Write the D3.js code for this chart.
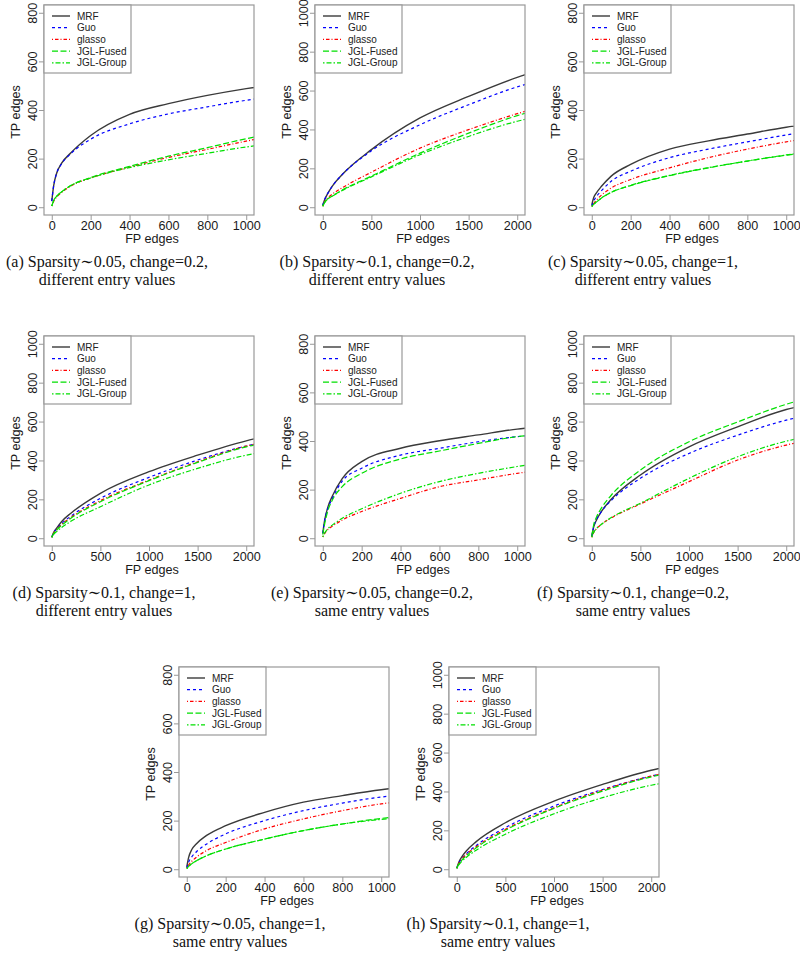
<!DOCTYPE html>
<html>
<head>
<meta charset="utf-8">
<script src="https://cdn.jsdelivr.net/npm/d3@7"></script>
<style>
  html, body { margin: 0; padding: 0; background: #fff; }
  svg { display: block; }
</style>
</head>
<body>
<svg id="chart" width="800" height="958"></svg>
<script>
// ---------------- DATA ----------------
const methods = ["MRF", "Guo", "glasso", "JGL-Fused", "JGL-Group"];
const panelIds = ["a", "b", "c", "d", "e", "f", "g", "h"];
const captionsLine1 = [
  "(a) Sparsity\u223C0.05, change=0.2,",
  "(b) Sparsity\u223C0.1, change=0.2,",
  "(c) Sparsity\u223C0.05, change=1,",
  "(d) Sparsity\u223C0.1, change=1,",
  "(e) Sparsity\u223C0.05, change=0.2,",
  "(f) Sparsity\u223C0.1, change=0.2,",
  "(g) Sparsity\u223C0.05, change=1,",
  "(h) Sparsity\u223C0.1, change=1,"
];
const captionsLine2 = [
  "different entry values", "different entry values", "different entry values",
  "different entry values", "same entry values", "same entry values",
  "same entry values", "same entry values"
];
const xMaxes = [1000, 2000, 1000, 2000, 1000, 2000, 1000, 2000];
const yMaxes = [800, 1000, 800, 1000, 800, 1000, 800, 1000];
const xTicksShort = [0, 200, 400, 600, 800, 1000];
const xTicksLong = [0, 500, 1000, 1500, 2000];
const yTicks800 = [0, 200, 400, 600, 800];
const yTicks1000 = [0, 200, 400, 600, 800, 1000];

// FP edge sample points (x) for the 1000-range and 2000-range panels
const FP_SHORT = [0, 10, 25, 50, 100, 200, 400, 600, 800, 1000, 1100];
const FP_LONG = [0, 20, 50, 100, 200, 500, 1000, 1500, 2000, 2200];

// TP edges (y), one row per panel a..h
const MRF = [
  [25, 90, 140, 180, 225, 295, 382, 426, 460, 488, 500],
  [10, 40, 70, 110, 168, 296, 459, 570, 668, 700],
  [10, 40, 60, 86, 128, 176, 239, 273, 301, 329, 340],
  [5, 30, 52, 85, 130, 231, 342, 427, 501, 525],
  [20, 75, 125, 175, 245, 315, 370, 401, 425, 449, 458],
  [10, 58, 95, 138, 200, 325, 470, 573, 662, 685],
  [10, 50, 80, 105, 138, 179, 234, 276, 303, 327, 336],
  [5, 35, 62, 95, 142, 239, 350, 436, 509, 530]
];
const GUO = [
  [25, 90, 140, 178, 222, 280, 343, 384, 413, 440, 452],
  [10, 40, 70, 110, 168, 290, 424, 527, 619, 648],
  [5, 25, 45, 68, 107, 148, 204, 239, 269, 297, 310],
  [5, 28, 48, 75, 115, 205, 313, 402, 474, 495],
  [20, 75, 120, 165, 235, 288, 342, 370, 397, 418, 425],
  [10, 60, 97, 138, 194, 308, 436, 530, 607, 630],
  [5, 30, 50, 72, 103, 145, 200, 241, 272, 297, 305],
  [5, 30, 52, 80, 122, 214, 325, 410, 479, 500]
];
const GLASSO = [
  [5, 25, 42, 60, 88, 120, 165, 205, 238, 272, 288],
  [5, 28, 48, 68, 100, 180, 304, 399, 481, 510],
  [3, 15, 30, 50, 79, 114, 162, 204, 239, 269, 282],
  [5, 26, 45, 70, 108, 193, 299, 393, 474, 495],
  [5, 20, 35, 50, 75, 110, 164, 212, 240, 267, 278],
  [5, 30, 50, 72, 104, 176, 291, 402, 479, 500],
  [3, 18, 32, 50, 76, 110, 166, 207, 241, 269, 278],
  [5, 28, 50, 76, 116, 205, 316, 407, 479, 500]
];
const JGL_FUSED = [
  [5, 28, 45, 63, 90, 122, 168, 210, 245, 282, 298],
  [5, 25, 42, 58, 88, 160, 278, 381, 471, 500],
  [3, 12, 22, 38, 61, 89, 130, 162, 190, 214, 224],
  [5, 24, 42, 66, 104, 188, 296, 390, 470, 490],
  [15, 60, 110, 158, 212, 267, 326, 359, 390, 418, 425],
  [10, 70, 110, 156, 221, 350, 496, 598, 689, 718],
  [3, 12, 22, 35, 55, 83, 124, 159, 186, 209, 217],
  [5, 26, 46, 70, 110, 200, 313, 402, 475, 495]
];
const JGL_GROUP = [
  [5, 28, 45, 63, 90, 120, 163, 195, 222, 248, 258],
  [5, 25, 42, 58, 86, 156, 270, 364, 442, 465],
  [3, 12, 22, 38, 61, 90, 131, 163, 190, 215, 225],
  [5, 20, 34, 55, 88, 162, 274, 359, 427, 445],
  [5, 22, 38, 55, 82, 121, 185, 233, 267, 295, 308],
  [5, 30, 50, 72, 106, 180, 308, 419, 499, 520],
  [3, 12, 22, 35, 55, 83, 124, 159, 186, 205, 212],
  [5, 22, 40, 62, 98, 180, 285, 368, 432, 450]
];
const SERIES = [MRF, GUO, GLASSO, JGL_FUSED, JGL_GROUP];

// ---------------- STYLE / LAYOUT ----------------
const lineColors = ["#3a3a3a", "#0000ff", "#ff0000", "#00e000", "#00e000"];
const lineDash = [null, "3,3", "1,2,3.5,2", "6,2.5", "1.5,2,5,2"];
const lineWidths = [1.4, 1.2, 1.2, 1.2, 1.2];
const boxLefts = [44, 315, 584, 44, 315, 584, 179, 449];
const boxTops = [5, 5, 5, 336, 336, 336, 667, 667];
const captionCenters = [107, 377, 643, 104, 372, 633, 230, 498];
const BOX = 210;
const sansFont = "'Liberation Sans', Arial, Helvetica, sans-serif";
const serifFont = "'Liberation Serif', 'Times New Roman', 'DejaVu Serif', serif";

const svg = d3.select("#chart");

panelIds.forEach((pid, i) => {
  const L = boxLefts[i], T = boxTops[i];
  const xMax = xMaxes[i], yMax = yMaxes[i];
  const fps = xMax === 1000 ? FP_SHORT : FP_LONG;
  const x = d3.scaleLinear().domain([-0.04 * xMax, 1.04 * xMax]).range([L, L + BOX]);
  const y = d3.scaleLinear().domain([-0.04 * yMax, 1.04 * yMax]).range([T + BOX, T]);
  const g = svg.append("g").attr("class", "panel panel-" + pid);

  const clipId = "clip-" + pid;
  svg.append("clipPath").attr("id", clipId)
    .append("rect").attr("x", L).attr("y", T).attr("width", BOX).attr("height", BOX);

  // curves
  const lineGen = d3.line()
    .x(d => x(d[0])).y(d => y(d[1]))
    .curve(d3.curveMonotoneX);
  const curves = g.append("g").attr("clip-path", `url(#${clipId})`);
  SERIES.forEach((ser, k) => {
    const pts = fps.map((fp, j) => [fp, ser[i][j]]);
    curves.append("path")
      .attr("d", lineGen(pts))
      .attr("fill", "none")
      .attr("stroke", lineColors[k])
      .attr("stroke-width", lineWidths[k])
      .attr("stroke-dasharray", lineDash[k]);
  });

  // box
  g.append("rect").attr("x", L).attr("y", T).attr("width", BOX).attr("height", BOX)
    .attr("fill", "none").attr("stroke", "#999").attr("stroke-width", 1.2);

  // x axis
  const xTicks = xMax === 1000 ? xTicksShort : xTicksLong;
  const xAxis = d3.axisBottom(x).tickValues(xTicks).tickSize(5).tickPadding(1).tickFormat(d3.format("d"));
  const xa = g.append("g").attr("transform", `translate(0,${T + BOX})`).call(xAxis);
  xa.attr("font-size", null).attr("font-family", null);
  xa.select(".domain").remove();
  xa.selectAll(".tick line").attr("stroke", "#999");
  xa.selectAll(".tick text")
    .style("font-family", sansFont).style("font-size", "12.6px").style("fill", "#1a1a1a");

  // y axis (labels parallel to axis, like R's las=0)
  const yTicks = yMax === 800 ? yTicks800 : yTicks1000;
  const yAxis = d3.axisLeft(y).tickValues(yTicks).tickSize(5).tickFormat(d3.format("d"));
  const ya = g.append("g").attr("transform", `translate(${L},0)`).call(yAxis);
  ya.attr("font-size", null).attr("font-family", null);
  ya.select(".domain").remove();
  ya.selectAll(".tick line").attr("stroke", "#999");
  ya.selectAll(".tick text")
    .style("font-family", sansFont).style("font-size", "12.6px").style("fill", "#1a1a1a")
    .attr("x", null).attr("dy", null)
    .attr("text-anchor", "middle")
    .attr("transform", "translate(-12,0) rotate(-90)")
    .attr("dy", "0.36em");

  // axis titles
  g.append("text").attr("x", L + BOX / 2 + 3).attr("y", T + BOX + 24).attr("dy", "0.35em")
    .attr("text-anchor", "middle").style("font-family", sansFont).style("font-size", "12.6px")
    .style("fill", "#1a1a1a").text("FP edges");
  g.append("text").attr("transform", `translate(${L - 29},${T + BOX / 2 + 2}) rotate(-90)`)
    .attr("dy", "0.36em").attr("text-anchor", "middle").style("font-family", sansFont)
    .style("font-size", "12.6px").style("fill", "#1a1a1a").text("TP edges");

  // legend
  const lg = g.append("g");
  lg.append("rect").attr("x", L).attr("y", T).attr("width", 87).attr("height", 68)
    .attr("fill", "#fff").attr("stroke", "#999").attr("stroke-width", 1.2);
  methods.forEach((m, k) => {
    const ly = T + 11 + k * 11.7;
    lg.append("line").attr("x1", L + 8).attr("x2", L + 26).attr("y1", ly).attr("y2", ly)
      .attr("stroke", lineColors[k]).attr("stroke-width", lineWidths[k])
      .attr("stroke-dasharray", lineDash[k]);
    lg.append("text").attr("x", L + 33).attr("y", ly).attr("dy", "0.36em")
      .style("font-family", sansFont).style("font-size", "10px").style("fill", "#222").text(m);
  });

  // caption
  const cx = captionCenters[i];
  const cy = T + BOX + 52;
  g.append("text").attr("x", cx).attr("y", cy).attr("text-anchor", "middle")
    .style("font-family", serifFont).style("font-size", "16px").style("fill", "#111")
    .text(captionsLine1[i]);
  g.append("text").attr("x", cx).attr("y", cy + 18).attr("text-anchor", "middle")
    .style("font-family", serifFont).style("font-size", "16px").style("fill", "#111")
    .text(captionsLine2[i]);
});
</script>
</body>
</html>
